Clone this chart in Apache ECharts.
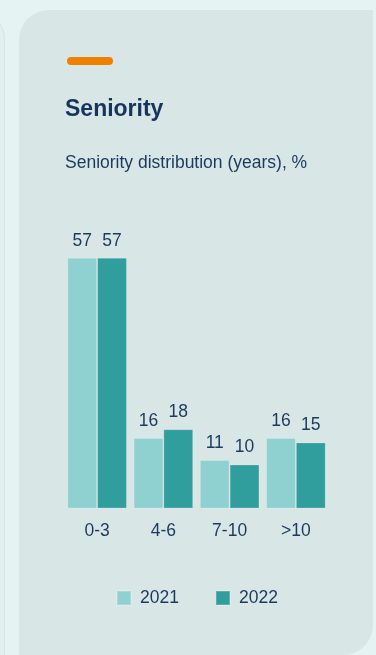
<!DOCTYPE html>
<html>
<head>
<meta charset="utf-8">
<script src="https://cdn.jsdelivr.net/npm/echarts@6/dist/echarts.min.js"></script>
<style>
  html, body { margin:0; padding:0; width:376px; height:655px; background:#e6f3f3; overflow:hidden; }
  #prev { position:absolute; left:-30px; top:10px; width:34px; height:700px; background:#e3f0f0; border-radius:0 30px 0 0; box-shadow: 1px 0 0 #d6e4e4; }
  #card { position:absolute; left:19px; top:10px; width:354px; height:645px; background:#d8e6e5; border-radius:30px 0 30px 0; }
  #chart { position:absolute; left:0; top:0; width:376px; height:655px; }
</style>
</head>
<body>
<div id="prev"></div>
<div id="card"></div>
<div id="chart"></div>
<script>
const categories = ['0-3', '4-6', '7-10', '>10'];
const seriesNames = ['2021', '2022'];
const values2021 = [57, 16, 11, 16];
const values2022 = [57, 18, 10, 15];
const titleText = 'Seniority';
const subtitleText = 'Seniority distribution (years), %';

const navy = '#1b3a5e';
const font = '"Liberation Sans", Arial, Helvetica, sans-serif';

const chart = echarts.init(document.getElementById('chart'), null, { renderer: 'canvas' });
chart.setOption({
  backgroundColor: 'transparent',
  animation: false,
  textStyle: { fontFamily: font },
  graphic: [{
    type: 'rect',
    shape: { x: 67, y: 57, width: 46, height: 8, r: 4 },
    style: { fill: '#f08000' }
  }],
  title: [
    { text: titleText, left: 65, top: 98, padding: 0, textStyle: { fontFamily: font, fontSize: 23, fontWeight: 'bold', color: '#14365c' } },
    { text: subtitleText, left: 65, top: 154, padding: 0, textStyle: { fontFamily: font, fontSize: 17.5, fontWeight: 'normal', color: navy } }
  ],
  legend: {
    data: seriesNames,
    left: 116, top: 589, padding: 0,
    icon: 'rect', itemWidth: 14, itemHeight: 14, itemGap: 36,
    textStyle: { fontFamily: font, fontSize: 17.5, color: navy, padding: [0, 0, 0, 4] }
  },
  grid: { left: 64, right: 47, top: 244.5, bottom: 146.5 },
  xAxis: {
    type: 'category', data: categories,
    axisLine: { show: false }, axisTick: { show: false },
    axisLabel: { color: navy, fontFamily: font, fontSize: 17.5, margin: 14 }
  },
  yAxis: { type: 'value', min: 0, max: 60, show: false, splitLine: { show: false } },
  series: [
    {
      name: seriesNames[0], type: 'bar', data: values2021,
      barGap: '0%', barCategoryGap: '10%',
      itemStyle: { color: '#8fd1d0', borderColor: 'rgba(255,255,255,0.2)', borderWidth: 1 },
      label: { show: true, position: 'top', distance: 8, color: navy, fontFamily: font, fontSize: 17.5 }
    },
    {
      name: seriesNames[1], type: 'bar', data: values2022,
      barGap: '0%', barCategoryGap: '10%',
      itemStyle: { color: '#309e9c', borderColor: 'rgba(255,255,255,0.2)', borderWidth: 1 },
      label: { show: true, position: 'top', distance: 8, color: navy, fontFamily: font, fontSize: 17.5 }
    }
  ]
});
</script>
</body>
</html>
